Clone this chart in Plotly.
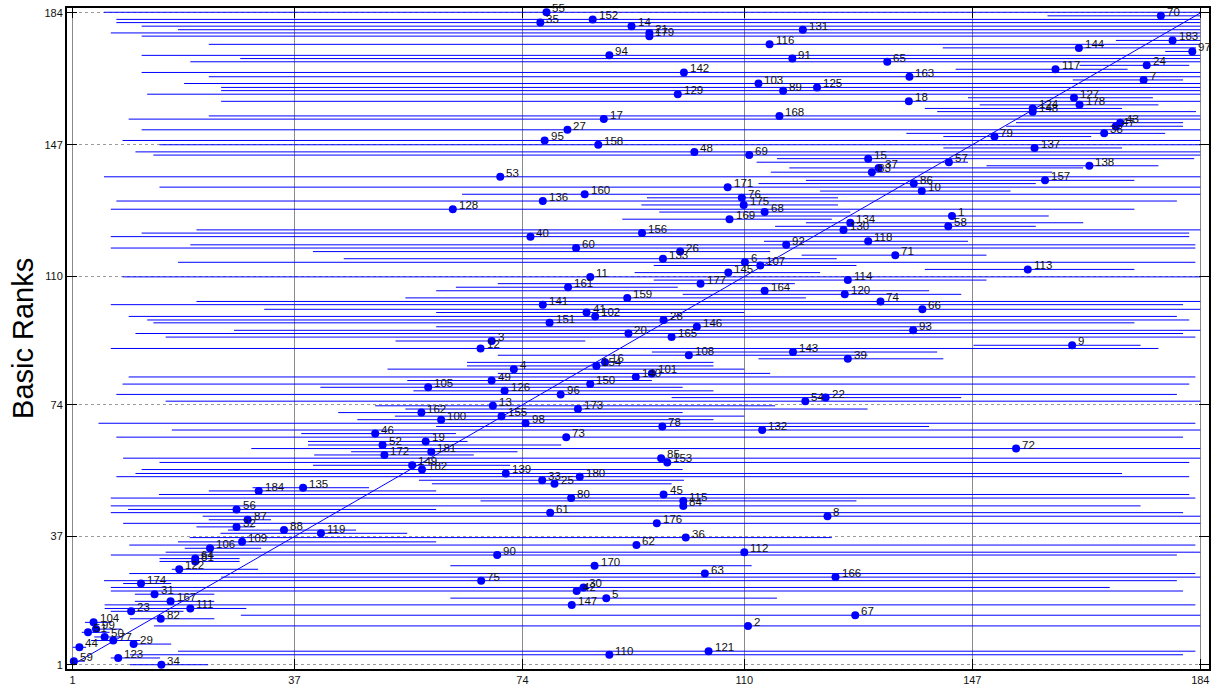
import plotly.graph_objects as go

# ---- data (id, other rank x, basic rank y, interval lo/hi) ----
labels = [55,152,35,14,131,21,179,116,94,91,
          65,142,163,103,125,89,129,18,168,17,
          27,95,158,48,69,15,57,138,37,83,
          53,157,86,171,10,160,76,136,175,128,
          68,1,169,134,58,130,156,40,118,92,
          60,26,71,133,6,107,113,145,11,114,
          177,161,164,120,159,74,141,66,41,102,
          28,151,146,93,20,165,3,9,12,143,
          108,39,16,154,4,101,140,49,150,105,
          126,96,22,54,13,173,162,155,100,98,
          78,132,46,73,19,52,72,181,172,85,
          153,149,182,139,180,33,25,135,184,45,
          80,115,84,56,61,8,87,176,32,88,
          119,36,109,62,106,112,90,64,81,170,
          122,63,166,75,174,30,42,31,5,167,
          147,111,23,67,82,104,2,99,51,50,
          77,29,44,121,110,123,59,34,
          70,183,144,97,24,117,7,127,178,124,
          148,43,47,38,79,137]

rank_x = [77.9,85.4,76.9,91.7,119.5,94.6,94.6,114.1,88.1,117.8,
          133.2,100.2,136.8,112.3,121.8,116.3,99.2,136.7,115.7,87.2,
          81.3,77.6,86.3,101.9,110.8,130.1,143.2,166.0,131.8,130.7,
          70.4,158.8,137.5,107.3,138.8,84.1,109.6,77.3,109.9,62.7,
          113.3,143.7,107.6,127.2,143.1,126.1,93.4,75.3,130.1,116.8,
          82.7,99.6,134.5,96.8,110.1,112.6,156.0,107.4,85.0,126.8,
          102.9,81.4,113.3,126.3,91.0,132.1,77.3,138.9,84.4,85.8,
          96.9,78.4,102.3,137.4,91.2,98.2,69.0,163.2,67.2,117.9,
          101.0,126.8,87.4,86.0,72.6,95.0,92.4,69.0,85.0,58.7,
          71.1,80.2,123.2,119.9,69.2,83.0,57.6,70.6,60.8,74.5,
          96.7,112.9,50.1,81.1,58.3,51.3,154.1,59.2,51.6,96.5,
          97.5,56.1,57.7,71.3,83.3,77.2,79.2,38.4,31.2,96.9,
          81.9,100.1,100.1,27.6,78.5,123.5,29.4,95.8,27.6,35.3,
          41.3,100.5,28.5,92.5,23.3,110.0,69.9,20.9,20.9,85.7,
          18.3,103.6,124.8,67.3,12.1,83.9,82.8,14.3,87.6,16.9,
          82.0,20.1,10.5,128.0,15.3,4.4,110.6,4.8,3.5,6.2,
          7.6,10.9,2.1,104.2,88.1,8.4,1.2,15.4,
          177.6,179.5,164.3,182.7,175.3,160.5,174.8,163.5,164.4,156.8,
          156.8,171.0,170.3,168.4,150.6,157.1]

rank_y = [184.2,182.2,181.3,180.3,179.3,178.4,177.5,175.2,172.1,171.2,
          170.3,167.3,166.1,164.2,163.1,162.2,161.2,159.2,155.1,154.2,
          151.2,148.2,147.0,145.0,144.1,143.1,142.1,141.1,140.5,139.3,
          138.0,137.0,136.1,135.1,134.0,133.1,132.1,131.2,130.1,128.9,
          128.1,127.0,126.1,125.1,124.1,123.1,122.2,121.2,119.9,118.9,
          118.0,117.0,116.0,115.0,114.0,113.1,112.0,111.1,109.9,109.0,
          108.0,107.0,106.0,105.0,104.0,103.0,102.1,100.8,99.9,98.8,
          97.8,97.0,95.9,94.9,94.0,93.0,91.9,90.7,89.8,88.8,
          87.9,86.9,85.9,84.9,84.0,82.8,81.8,80.8,79.8,78.9,
          77.9,76.9,76.0,75.0,73.7,72.8,71.8,70.8,69.8,68.8,
          67.9,66.9,65.9,64.9,63.7,62.7,61.7,60.8,59.9,59.0,
          57.8,57.0,55.8,54.7,53.8,52.8,51.8,50.7,49.8,48.8,
          47.8,47.0,45.6,44.6,43.7,42.7,41.7,40.7,39.7,38.8,
          37.9,36.7,35.5,34.6,33.7,32.6,31.8,30.8,30.0,28.8,
          27.8,26.6,25.6,24.6,23.8,22.7,21.7,20.8,19.7,18.8,
          17.8,16.8,16.0,14.9,13.9,12.9,11.9,11.0,10.1,8.8,
          7.8,6.8,5.9,4.8,3.8,2.9,2.0,1.0,
          183.2,176.3,174.2,173.2,169.3,168.2,165.2,160.2,158.2,157.2,
          156.3,153.2,152.2,150.2,149.3,146.1]

ci_low = [6.1,8.1,8.1,12.2,18.1,7.2,12.2,23.1,12.2,28.2,
          20.1,12.2,23.1,19.1,25.1,25.1,13.1,25.1,23.1,10.1,
          12.2,9.1,15.1,11.2,14.1,115.3,112,149.3,117.3,114.3,
          6.1,120,112.3,15.1,122.3,64.2,94.2,8.1,93.3,7.2,
          96.2,110.4,90.2,120,115,21.1,12.2,7.2,113.2,20.1,
          7.2,40,119.3,45,18.1,95.3,139.3,92.2,9.1,95.3,
          70,63.2,60,100,55,21.1,7.2,32.1,60,10.1,
          13.1,14.1,60,27.2,11.2,16.1,53.4,147.2,7.2,95,
          70,112.3,65,65,52.1,70,10.1,55.3,9.1,41.2,
          56.3,8.1,98.2,16.1,50.1,55,44.1,53.3,47.2,5.2,
          60,17.1,38.1,8.1,39.2,39.2,30,46.2,40.2,9.2,
          15.1,40,12.2,11.2,8.1,57.2,59.3,30.2,23.1,15,
          7.2,67.2,7.2,10,7.2,22.1,23.1,9.2,21.1,26.2,
          25,20,18.1,10.2,19.2,16.1,7.2,15.1,15.1,62.3,
          17.1,10.2,25.1,6.1,9.2,7.2,7.2,11.1,62.3,11.1,
          6.2,6.2,7.2,28.3,10.3,3.0,14.2,4.1,2.5,4.5,
          4,10.3,1.0,18.1,10.3,7.2,1,10.3,
          159.2,170.3,142.2,178.3,164.4,144.3,163.3,146.3,148.2,139.3,
          141.3,154.1,152.5,136.3,142.3,142.3]

ci_high = [184,184,184,184,184,184,184,184,184,184,
           184,184,184,184,184,184,184,184,184,184,
           184,184,184,184,184,183,146.3,177.2,165,160,
           184,173.3,157.3,184,153.2,184,125.2,180.2,125.2,173.3,
           127.2,159.4,124.2,165,157.3,184,182.2,182.2,146.3,183.2,
           183.2,114.2,149.3,125,183.2,128.2,173.3,122.3,184,149.3,
           118.2,99.2,140,145.2,120,184,181.2,184,110,180.2,
           182.2,173.3,140,184,181.2,183.2,84.2,174.3,177.2,141.3,
           130,142.3,105,105,110,114.2,183.2,95,182.2,100,
           105,180.2,145.2,184,115,130,100,110,105,183.2,
           140,184,63.2,181.2,65.1,80.3,184,73.2,66.1,184,
           182.2,72,100,171.3,182.2,100.2,98.2,49.1,60,182.2,
           183.2,128.2,174.3,60,181.2,184,33.2,184,30.5,47.0,
           55.3,124.2,60,183.2,31.6,184,180.2,28.1,28.1,111.2,
           31.1,183.2,184,180.2,17.0,169.3,181.2,24.0,115.3,24.0,
           183.2,29.2,19.0,184,24.0,7.3,184,8.9,7,9,
           12,17,3.2,183.2,181.2,15.2,3,23,
           184,184,183.3,183.3,182.2,172.2,181.2,176.3,177.2,171.3,
           183.3,181.2,181.2,178.3,166.3,171.3]

tick_vals = [1, 37, 74, 110, 147, 184]
diag = [1, 184]

BLUE = "#0000ff"

# interval segments
seg_x, seg_y = [], []
for lo, hi, yy in zip(ci_low, ci_high, rank_y):
    seg_x += [lo, hi, None]
    seg_y += [yy, yy, None]

fig = go.Figure()
fig.add_trace(go.Scatter(x=seg_x, y=seg_y, mode="lines",
                         line=dict(color=BLUE, width=1), hoverinfo="skip",
                         showlegend=False))
fig.add_trace(go.Scatter(x=diag, y=diag, mode="lines",
                         line=dict(color=BLUE, width=1), showlegend=False))
fig.add_trace(go.Scatter(x=rank_x, y=rank_y, mode="markers",
                         marker=dict(color=BLUE, size=8), showlegend=False))

for lab, xx, yy in zip(labels, rank_x, rank_y):
    fig.add_annotation(x=xx, y=yy, text=str(lab), showarrow=False,
                       xanchor="left", yanchor="middle", xshift=4, yshift=4,
                       font=dict(family="Liberation Sans, Arial", size=11.5,
                                 color="#111"))

fig.add_annotation(xref="paper", yref="paper", x=-0.039, y=0.5,
                   text="Basic Ranks", textangle=-90, showarrow=False,
                   xanchor="center", yanchor="middle",
                   font=dict(family="Liberation Sans, Arial", size=29,
                             color="#000"))

axis_common = dict(tickvals=tick_vals, ticks="inside", ticklen=10,
                   tickcolor="#000", tickwidth=1, showline=True,
                   linecolor="#000", linewidth=2, mirror="ticks",
                   zeroline=False, showgrid=True, gridwidth=1,
                   tickfont=dict(family="Liberation Sans, Arial", size=11,
                                 color="#111"))

fig.update_xaxes(range=[0.09, 185.41], gridcolor="#8a8a8a", **axis_common)
fig.update_yaxes(range=[-0.2, 185.4], gridcolor="#9a9a9a", griddash="dot",
                 **axis_common)

fig.update_layout(width=1217, height=692,
                  margin=dict(l=67, r=6, t=8, b=19),
                  paper_bgcolor="white", plot_bgcolor="white",
                  font=dict(family="Liberation Sans, Arial"))

fig.write_html("out.html")
